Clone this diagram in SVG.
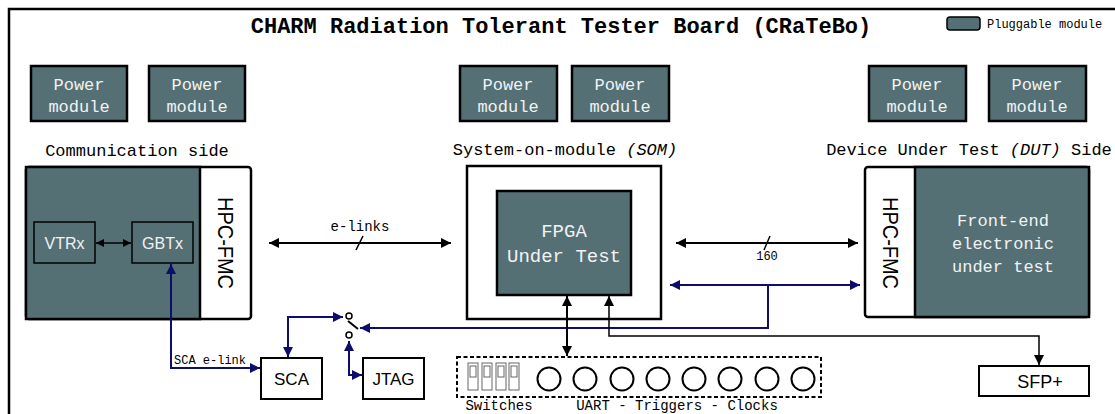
<svg xmlns="http://www.w3.org/2000/svg" width="1115" height="414" viewBox="0 0 1115 414">
<style>
.mono{font-family:"Liberation Mono","DejaVu Sans Mono",monospace;}
.sans{font-family:"Liberation Sans",Arial,sans-serif;}
.mod{fill:#547075;stroke:#000;stroke-width:2.5;}
.wt{fill:#f2f2f2;}
.box{fill:#fff;stroke:#000;stroke-width:2;}
.blk{fill:none;stroke:#000;stroke-width:2;}
.blu{fill:none;stroke:#0d0d6b;stroke-width:2;}
.thin{fill:none;stroke:#000;stroke-width:1.5;}
</style>
<defs>
<marker id="ab" markerUnits="userSpaceOnUse" markerWidth="11" markerHeight="10" refX="10" refY="5" orient="auto-start-reverse"><path d="M0,0 L10,5 L0,10 z" fill="#000"/></marker>
<marker id="au" markerUnits="userSpaceOnUse" markerWidth="11" markerHeight="10" refX="10" refY="5" orient="auto-start-reverse"><path d="M0,0 L10,5 L0,10 z" fill="#0d0d6b"/></marker>
<marker id="as" markerUnits="userSpaceOnUse" markerWidth="9" markerHeight="8" refX="8" refY="4" orient="auto-start-reverse"><path d="M0,0 L8,4 L0,8 z" fill="#000"/></marker>
</defs>
<rect x="0" y="0" width="1115" height="414" fill="#fff"/>
<rect x="9" y="9" width="1120" height="420" fill="none" stroke="#000" stroke-width="2.5"/>
<text class="mono" x="561" y="33" font-size="22" font-weight="bold" text-anchor="middle">CHARM Radiation Tolerant Tester Board (CRaTeBo)</text>
<g id="legend">
<rect x="947" y="17" width="33" height="13" rx="3" fill="#547075" stroke="#000" stroke-width="1.5"/>
<text class="mono" x="987" y="28" font-size="12">Pluggable module</text>
</g>
<g id="power1"><rect class="mod" x="31" y="66" width="96" height="55"/><text class="mono wt" x="79" y="90" font-size="17" text-anchor="middle">Power</text><text class="mono wt" x="79" y="112" font-size="17" text-anchor="middle">module</text></g>
<g id="power2"><rect class="mod" x="149" y="66" width="96" height="55"/><text class="mono wt" x="197" y="90" font-size="17" text-anchor="middle">Power</text><text class="mono wt" x="197" y="112" font-size="17" text-anchor="middle">module</text></g>
<g id="power3"><rect class="mod" x="460" y="66" width="97" height="55"/><text class="mono wt" x="508" y="90" font-size="17" text-anchor="middle">Power</text><text class="mono wt" x="508" y="112" font-size="17" text-anchor="middle">module</text></g>
<g id="power4"><rect class="mod" x="572" y="66" width="97" height="55"/><text class="mono wt" x="620" y="90" font-size="17" text-anchor="middle">Power</text><text class="mono wt" x="620" y="112" font-size="17" text-anchor="middle">module</text></g>
<g id="power5"><rect class="mod" x="869" y="66" width="97" height="55"/><text class="mono wt" x="917" y="90" font-size="17" text-anchor="middle">Power</text><text class="mono wt" x="917" y="112" font-size="17" text-anchor="middle">module</text></g>
<g id="power6"><rect class="mod" x="989" y="66" width="97" height="55"/><text class="mono wt" x="1037" y="90" font-size="17" text-anchor="middle">Power</text><text class="mono wt" x="1037" y="112" font-size="17" text-anchor="middle">module</text></g>

<g id="comm">
<text class="mono" x="137" y="156" font-size="17" text-anchor="middle">Communication side</text>
<rect x="26" y="167" width="225" height="152" rx="3" fill="#fff" stroke="#000" stroke-width="2.5"/>
<rect x="26" y="167" width="174" height="152" fill="#547075" stroke="#000" stroke-width="2.5"/>
<text class="sans" x="0" y="0" font-size="22" text-anchor="middle" dominant-baseline="central" transform="translate(225,243) rotate(90)" textLength="92" lengthAdjust="spacingAndGlyphs">HPC-FMC</text>
</g>
<g id="vtrx"><rect x="34" y="222" width="61" height="41" fill="#547075" stroke="#000" stroke-width="1.5"/><text class="sans wt" x="64.5" y="249" font-size="16" text-anchor="middle">VTRx</text></g>
<g id="gbtx"><rect x="132" y="222" width="61" height="41" fill="#547075" stroke="#000" stroke-width="1.5"/><text class="sans wt" x="162.5" y="249" font-size="16" text-anchor="middle">GBTx</text></g>

<g id="som">
<text class="mono" x="565" y="155" font-size="17" text-anchor="middle">System-on-module <tspan font-style="italic">(SOM)</tspan></text>
<rect x="467" y="166" width="194" height="153" fill="#fff" stroke="#000" stroke-width="2.5"/>
</g>
<g id="fpga"><rect class="mod" x="497" y="191" width="134" height="104"/><text class="mono wt" x="564" y="237" font-size="19" text-anchor="middle">FPGA</text><text class="mono wt" x="564" y="262" font-size="19" text-anchor="middle">Under Test</text></g>

<g id="dut">
<text class="mono" x="969" y="155" font-size="17" text-anchor="middle">Device Under Test <tspan font-style="italic">(DUT)</tspan> Side</text>
<rect x="865" y="167" width="224" height="150" rx="3" fill="#fff" stroke="#000" stroke-width="2.5"/>
<rect x="915" y="167" width="174" height="150" fill="#547075" stroke="#000" stroke-width="2.5"/>
<text class="sans" x="0" y="0" font-size="22" text-anchor="middle" dominant-baseline="central" transform="translate(890,243) rotate(90)" textLength="92" lengthAdjust="spacingAndGlyphs">HPC-FMC</text>
<text class="mono wt" x="1003" y="226" font-size="17" text-anchor="middle">Front-end</text>
<text class="mono wt" x="1003" y="249" font-size="17" text-anchor="middle">electronic</text>
<text class="mono wt" x="1003" y="272" font-size="17" text-anchor="middle">under test</text>
</g>

<g id="sca"><rect class="box" x="261" y="358" width="61" height="41"/><text class="sans" x="291.5" y="385" font-size="17" text-anchor="middle">SCA</text></g>
<g id="jtag"><rect class="box" x="363" y="358" width="61" height="41"/><text class="sans" x="393.5" y="385" font-size="17" text-anchor="middle">JTAG</text></g>
<g id="sfp"><rect class="box" x="979" y="366" width="110" height="30"/><text class="sans" x="1040" y="388" font-size="18" text-anchor="middle">SFP+</text></g>

<g id="switch">
<circle cx="349" cy="316" r="3" fill="#fff" stroke="#000" stroke-width="1.5"/>
<circle cx="349" cy="335" r="3" fill="#fff" stroke="#000" stroke-width="1.5"/>
<line x1="348" y1="321" x2="358" y2="329" stroke="#000" stroke-width="2"/>
</g>

<g id="connectors">
<rect x="457" y="357" width="364" height="40" fill="none" stroke="#000" stroke-width="2" stroke-dasharray="4,2.5"/>
<g fill="#fff" stroke="#666" stroke-width="1">
<rect x="468" y="363" width="10" height="27"/><rect x="470" y="366" width="6" height="11"/>
<rect x="482" y="363" width="10" height="27"/><rect x="484" y="366" width="6" height="11"/>
<rect x="496" y="363" width="10" height="27"/><rect x="498" y="366" width="6" height="11"/>
<rect x="509" y="363" width="10" height="27"/><rect x="511" y="366" width="6" height="11"/>
</g>
<g fill="none" stroke="#000" stroke-width="2">
<circle cx="549" cy="379" r="11.5"/><circle cx="585" cy="379" r="11.5"/><circle cx="622" cy="379" r="11.5"/><circle cx="658" cy="379" r="11.5"/>
<circle cx="694" cy="379" r="11.5"/><circle cx="730" cy="379" r="11.5"/><circle cx="767" cy="379" r="11.5"/><circle cx="803" cy="379" r="11.5"/>
</g>
<text class="mono" x="499" y="410" font-size="14" text-anchor="middle">Switches</text>
<text class="mono" x="677" y="410" font-size="14" text-anchor="middle">UART - Triggers - Clocks</text>
</g>

<g id="edges">
<line class="blk" x1="269" y1="243" x2="451" y2="243" marker-start="url(#ab)" marker-end="url(#ab)"/>
<line x1="356" y1="250" x2="363" y2="236" stroke="#000" stroke-width="1.5"/>
<text class="mono" x="360" y="231" font-size="14" text-anchor="middle">e-links</text>
<line class="blk" x1="676" y1="243" x2="858" y2="243" marker-start="url(#ab)" marker-end="url(#ab)"/>
<line x1="764" y1="250" x2="770" y2="236" stroke="#000" stroke-width="1.5"/>
<text class="mono" x="767" y="260" font-size="12" text-anchor="middle">160</text>
<line class="thin" x1="96" y1="243" x2="131" y2="243" marker-start="url(#as)" marker-end="url(#as)"/>
<line class="blu" x1="670" y1="285" x2="860" y2="285" marker-start="url(#au)" marker-end="url(#au)"/>
<path class="blu" d="M768,285 V328 H360" marker-end="url(#au)"/>
<path class="blu" d="M343,317 H288 V357" marker-start="url(#au)" marker-end="url(#au)"/>
<path class="blu" d="M349,341 V375 H362" marker-start="url(#au)" marker-end="url(#au)"/>
<path class="blu" d="M171,264 V368 H260" marker-start="url(#au)" marker-end="url(#au)"/>
<text class="mono" x="210" y="364" font-size="12" text-anchor="middle">SCA e-link</text>
<line class="blk" x1="567" y1="296" x2="567" y2="356" marker-start="url(#ab)" marker-end="url(#ab)"/>
<path class="thin" d="M609,296 V336 H1039 V365" marker-start="url(#ab)" marker-end="url(#ab)"/>
</g>
</svg>
